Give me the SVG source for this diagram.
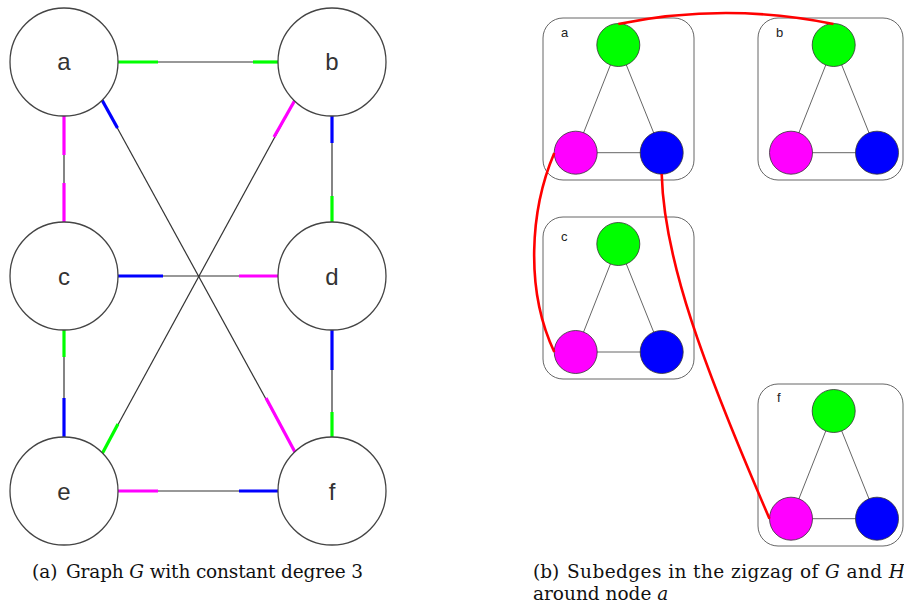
<svg xmlns="http://www.w3.org/2000/svg" width="904" height="607" viewBox="0 0 904 607">
<style>
.node{fill:#fff;stroke:#444;stroke-width:1.3}
.lbl{font-family:"Liberation Sans",Arial,sans-serif;font-size:24px;fill:#333;text-anchor:middle}
.edge{stroke:#333;stroke-width:1.2;fill:none}
.g{stroke:#00ff00;stroke-width:3.2}
.m{stroke:#ff00ff;stroke-width:3.2}
.b{stroke:#0000ff;stroke-width:3.2}
.box{fill:#fff;stroke:#666;stroke-width:1}
.in{stroke:#666;stroke-width:1}
.cg{fill:#00ff00;stroke:#333;stroke-width:0.8}
.cm{fill:#ff00ff;stroke:#333;stroke-width:0.8}
.cb{fill:#0000ff;stroke:#333;stroke-width:0.8}
.sl{font-family:"Liberation Sans",Arial,sans-serif;font-size:13px;fill:#222}
.red{stroke:#ff0000;stroke-width:2.6;fill:none}
.cap{font-family:"DejaVu Serif",serif;font-size:18.5px;fill:#111}
</style>
<g id="connectors">
  <!-- a-b -->
  <line class="edge" x1="118" y1="62" x2="279" y2="62"/>
  <line class="g" x1="118" y1="62" x2="158" y2="62"/>
  <line class="g" x1="253" y1="62" x2="279" y2="62"/>
  <!-- a-c -->
  <line class="edge" x1="64" y1="116" x2="64" y2="222"/>
  <line class="m" x1="64" y1="116" x2="64" y2="155"/>
  <line class="m" x1="64" y1="183" x2="64" y2="222"/>
  <!-- b-d -->
  <line class="edge" x1="332" y1="116" x2="332" y2="222"/>
  <line class="b" x1="332" y1="116" x2="332" y2="143"/>
  <line class="g" x1="332" y1="196" x2="332" y2="222"/>
  <!-- c-d -->
  <line class="edge" x1="118" y1="276" x2="279" y2="276"/>
  <line class="b" x1="118" y1="276" x2="163" y2="276"/>
  <line class="m" x1="239" y1="276" x2="279" y2="276"/>
  <!-- c-e -->
  <line class="edge" x1="64" y1="330" x2="64" y2="437"/>
  <line class="g" x1="64" y1="330" x2="64" y2="357"/>
  <line class="b" x1="64" y1="398" x2="64" y2="437"/>
  <!-- d-f -->
  <line class="edge" x1="332" y1="330" x2="332" y2="437"/>
  <line class="b" x1="332" y1="330" x2="332" y2="370"/>
  <line class="g" x1="332" y1="412" x2="332" y2="437"/>
  <!-- e-f -->
  <line class="edge" x1="118" y1="491" x2="279" y2="491"/>
  <line class="m" x1="118" y1="491" x2="158" y2="491"/>
  <line class="b" x1="239" y1="491" x2="279" y2="491"/>
  <!-- a-f -->
  <line class="edge" x1="102" y1="100" x2="296" y2="454"/>
  <line class="b" x1="102" y1="100" x2="117.5" y2="128"/>
  <line class="m" x1="266" y1="398" x2="296" y2="454"/>
  <!-- b-e -->
  <line class="edge" x1="295" y1="100" x2="102" y2="454"/>
  <line class="m" x1="295" y1="100" x2="274" y2="137"/>
  <line class="g" x1="118" y1="424" x2="102" y2="454"/>
</g>
<g id="node-a"><circle class="node" cx="64" cy="62" r="54"/><text class="lbl" x="64" y="70">a</text></g>
<g id="node-b"><circle class="node" cx="332" cy="62" r="54"/><text class="lbl" x="332" y="70">b</text></g>
<g id="node-c"><circle class="node" cx="64" cy="276" r="54"/><text class="lbl" x="64" y="284.5">c</text></g>
<g id="node-d"><circle class="node" cx="332" cy="276" r="54"/><text class="lbl" x="332" y="284.5">d</text></g>
<g id="node-e"><circle class="node" cx="64" cy="491" r="54"/><text class="lbl" x="64" y="499.5">e</text></g>
<g id="node-f"><circle class="node" cx="332" cy="491" r="54"/><text class="lbl" x="332" y="499.5">f</text></g>

<g id="cloud-a">
  <rect class="box" x="543" y="18" width="151" height="162" rx="20"/>
  <text class="sl" x="561" y="37">a</text>
  <line class="in" x1="618.3" y1="45" x2="575.7" y2="152.7"/>
  <line class="in" x1="618.3" y1="45" x2="661.7" y2="152.7"/>
  <line class="in" x1="575.7" y1="152.7" x2="661.7" y2="152.7"/>
  <circle class="cg" cx="618.3" cy="45" r="21.5"/>
  <circle class="cm" cx="575.7" cy="152.7" r="21.5"/>
  <circle class="cb" cx="661.7" cy="152.7" r="21.5"/>
</g>
<g id="cloud-b">
  <rect class="box" x="758" y="18" width="145" height="162" rx="20"/>
  <text class="sl" x="776" y="37">b</text>
  <line class="in" x1="833.7" y1="45" x2="791" y2="152.7"/>
  <line class="in" x1="833.7" y1="45" x2="877" y2="152.7"/>
  <line class="in" x1="791" y1="152.7" x2="877" y2="152.7"/>
  <circle class="cg" cx="833.7" cy="45" r="21.5"/>
  <circle class="cm" cx="791" cy="152.7" r="21.5"/>
  <circle class="cb" cx="877" cy="152.7" r="21.5"/>
</g>
<g id="cloud-c">
  <rect class="box" x="543" y="217" width="151" height="162" rx="20"/>
  <text class="sl" x="561" y="241">c</text>
  <line class="in" x1="618.3" y1="244" x2="575.7" y2="352"/>
  <line class="in" x1="618.3" y1="244" x2="661.7" y2="352"/>
  <line class="in" x1="575.7" y1="352" x2="661.7" y2="352"/>
  <circle class="cg" cx="618.3" cy="244" r="21.5"/>
  <circle class="cm" cx="575.7" cy="352" r="21.5"/>
  <circle class="cb" cx="661.7" cy="352" r="21.5"/>
</g>
<g id="cloud-f">
  <rect class="box" x="758" y="384" width="145" height="162" rx="20"/>
  <text class="sl" x="777" y="402">f</text>
  <line class="in" x1="833.7" y1="411" x2="791" y2="518.7"/>
  <line class="in" x1="833.7" y1="411" x2="877" y2="518.7"/>
  <line class="in" x1="791" y1="518.7" x2="877" y2="518.7"/>
  <circle class="cg" cx="833.7" cy="411" r="21.5"/>
  <circle class="cm" cx="791" cy="518.7" r="21.5"/>
  <circle class="cb" cx="877" cy="518.7" r="21.5"/>
</g>
<g id="subedges">
  <path class="red" d="M618.3,24 Q726,2 833.5,24"/>
  <path class="red" d="M554.3,153 C530,210 525,290 554.3,352"/>
  <path class="red" d="M661.7,174 C664,260 703,365 769.5,518.7"/>
</g>
<g id="captions">
  <text class="cap" x="32" y="578">(a)</text>
  <text class="cap" x="66" y="578" textLength="297" lengthAdjust="spacing">Graph <tspan font-style="italic">G</tspan> with constant degree 3</text>
  <text class="cap" x="533" y="578">(b)</text>
  <text class="cap" x="567" y="578" textLength="338" lengthAdjust="spacing">Subedges in the zigzag of <tspan font-style="italic">G</tspan> and <tspan font-style="italic">H</tspan></text>
  <text class="cap" x="533" y="599.5">around node <tspan font-style="italic">a</tspan></text>
</g>
</svg>
